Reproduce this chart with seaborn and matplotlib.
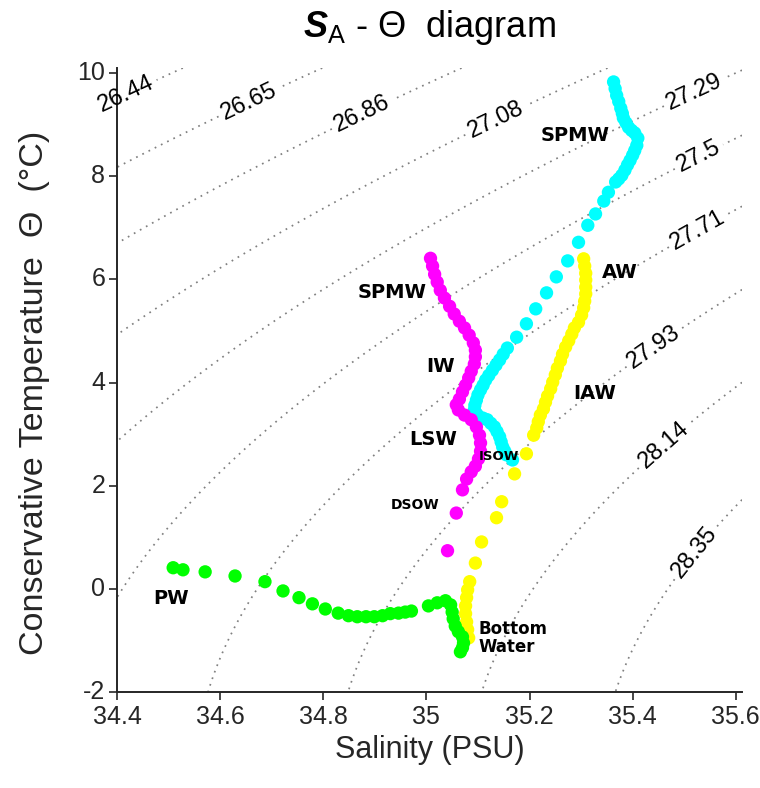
import numpy as np
import pandas as pd
import matplotlib
matplotlib.use("Agg")
import matplotlib.pyplot as plt
import seaborn as sns

# ---------------------------------------------------------------------------
# Profile data: absolute salinity (x) and conservative temperature (y)
# ---------------------------------------------------------------------------
cyan_sa = [35.363, 35.366, 35.369, 35.373, 35.377, 35.380, 35.382, 35.387,
           35.392, 35.398, 35.404, 35.410, 35.408, 35.404, 35.400, 35.395,
           35.390, 35.385, 35.379, 35.373, 35.367, 35.353, 35.344, 35.328,
           35.313, 35.295, 35.274, 35.252, 35.233, 35.212, 35.194, 35.175,
           35.157, 35.149, 35.142, 35.135, 35.128, 35.121, 35.115, 35.110,
           35.105, 35.100, 35.097, 35.094, 35.093, 35.097, 35.101, 35.110,
           35.118, 35.125, 35.132, 35.137, 35.142, 35.145, 35.148, 35.152,
           35.155, 35.167]
cyan_ct = [9.83, 9.70, 9.57, 9.45, 9.32, 9.22, 9.13, 9.04,
           8.95, 8.89, 8.84, 8.74, 8.60, 8.50, 8.41, 8.31,
           8.22, 8.12, 8.02, 7.95, 7.89, 7.69, 7.52, 7.27,
           7.05, 6.72, 6.36, 6.05, 5.74, 5.43, 5.14, 4.88,
           4.67, 4.55, 4.44, 4.34, 4.24, 4.14, 4.05, 3.95,
           3.86, 3.76, 3.66, 3.56, 3.47, 3.40, 3.35, 3.31,
           3.28, 3.21, 3.14, 3.05, 2.95, 2.85, 2.75, 2.67,
           2.60, 2.50]

magenta_sa = [35.008, 35.012, 35.016, 35.021, 35.027, 35.035, 35.045, 35.054,
              35.064, 35.074, 35.083, 35.091, 35.095, 35.095, 35.093, 35.087,
              35.082, 35.076, 35.070, 35.064, 35.058, 35.062, 35.074, 35.087,
              35.097, 35.103, 35.105, 35.105, 35.101, 35.095, 35.087, 35.078,
              35.070, 35.058, 35.041]
magenta_ct = [6.41, 6.26, 6.10, 5.95, 5.79, 5.64, 5.48, 5.33,
              5.19, 5.06, 4.92, 4.77, 4.63, 4.50, 4.36, 4.22,
              4.09, 3.95, 3.82, 3.68, 3.57, 3.47, 3.37, 3.28,
              3.14, 2.98, 2.83, 2.67, 2.52, 2.38, 2.27, 2.13,
              1.92, 1.47, 0.74]

yellow_sa = [35.305, 35.307, 35.309, 35.309, 35.309, 35.309, 35.307, 35.305,
             35.301, 35.295, 35.287, 35.282, 35.276, 35.270, 35.264, 35.260,
             35.254, 35.250, 35.245, 35.241, 35.235, 35.231, 35.227, 35.221,
             35.217, 35.214, 35.208, 35.194, 35.171, 35.146, 35.136, 35.107,
             35.095, 35.084, 35.080, 35.078, 35.076, 35.076, 35.078, 35.080,
             35.082]
yellow_ct = [6.40, 6.26, 6.12, 5.99, 5.85, 5.72, 5.58, 5.45,
             5.31, 5.17, 5.06, 4.94, 4.81, 4.69, 4.55, 4.42,
             4.28, 4.15, 4.01, 3.88, 3.74, 3.62, 3.49, 3.37,
             3.24, 3.12, 2.98, 2.62, 2.23, 1.69, 1.38, 0.91,
             0.50, 0.14, -0.02, -0.17, -0.33, -0.48, -0.64, -0.79,
             -0.95]

green_sa = [34.509, 34.528, 34.571, 34.629, 34.687, 34.722, 34.753, 34.779,
            34.804, 34.829, 34.849, 34.866, 34.883, 34.899, 34.915, 34.930,
            34.946, 34.959, 34.971, 35.004, 35.021, 35.037, 35.047, 35.050,
            35.052, 35.056, 35.062, 35.070, 35.072, 35.070, 35.066]
green_ct = [0.41, 0.37, 0.33, 0.25, 0.14, -0.04, -0.17, -0.29,
            -0.39, -0.47, -0.52, -0.54, -0.54, -0.54, -0.52, -0.48,
            -0.47, -0.45, -0.43, -0.33, -0.27, -0.23, -0.31, -0.45,
            -0.58, -0.72, -0.83, -0.93, -1.05, -1.14, -1.22]

# Potential density anomaly levels drawn as isopycnals
sigma_levels = [26.44, 26.65, 26.86, 27.08, 27.29, 27.5, 27.71, 27.93, 28.14, 28.35]
sigma_texts = ["26.44", "26.65", "26.86", "27.08", "27.29", "27.5", "27.71",
               "27.93", "28.14", "28.35"]

# Water-mass names
mass_names = ["SPMW", "AW", "IAW", "SPMW", "IW", "LSW", "ISOW", "DSOW", "PW",
              "Bottom\nWater"]

x_ticks = [34.4, 34.6, 34.8, 35.0, 35.2, 35.4, 35.6]
x_tick_text = ["34.4", "34.6", "34.8", "35", "35.2", "35.4", "35.6"]
y_ticks = [-2, 0, 2, 4, 6, 8, 10]


def sigma0(sa, ct):
    """One-atmosphere density anomaly (UNESCO 1983 polynomial)."""
    sp = sa * 35.0 / 35.16504
    t = ct
    rho_w = (999.842594 + 6.793952e-2 * t - 9.095290e-3 * t**2
             + 1.001685e-4 * t**3 - 1.120083e-6 * t**4 + 6.536332e-9 * t**5)
    a = (8.24493e-1 - 4.0899e-3 * t + 7.6438e-5 * t**2
         - 8.2467e-7 * t**3 + 5.3875e-9 * t**4)
    b = -5.72466e-3 + 1.0227e-4 * t - 1.6546e-6 * t**2
    c = 4.8314e-4
    return rho_w + a * sp + b * sp**1.5 + c * sp**2 - 1000.0


profiles = [("cyan", cyan_sa, cyan_ct), ("magenta", magenta_sa, magenta_ct),
            ("yellow", yellow_sa, yellow_ct), ("green", green_sa, green_ct)]
df = pd.concat([pd.DataFrame({"SA": s, "CT": t, "profile": name})
                for name, s, t in profiles], ignore_index=True)
palette = {"cyan": "#00ffff", "magenta": "#ff00ff",
           "yellow": "#ffff00", "green": "#00ff00"}

sns.set_theme(style="white")
plt.rcParams["font.family"] = ["Liberation Sans", "DejaVu Sans"]
plt.rcParams["axes.unicode_minus"] = False
plt.rcParams["mathtext.fontset"] = "custom"
plt.rcParams["mathtext.rm"] = "Liberation Sans"
plt.rcParams["mathtext.bfit"] = "Liberation Sans:bold:italic"

fig = plt.figure(figsize=(7.6, 7.88), dpi=100)
ax = fig.add_axes([0.1539, 0.1218, 0.8224, 0.7919])

xlim = (34.4, 35.612)
ylim = (-2.0, 10.1)

# Isopycnal background
sg, tg = np.meshgrid(np.linspace(xlim[0], xlim[1], 400),
                     np.linspace(ylim[0], ylim[1], 400))
cs = ax.contour(sg, tg, sigma0(sg, tg), levels=sigma_levels,
                colors=[(0.5, 0.5, 0.5)], linewidths=1.25,
                linestyles=[(0, (1, 3))], zorder=1)
label_at = [(34.416, 9.63), (34.654, 9.48), (34.876, 9.19), (35.134, 9.09),
            (35.518, 9.67), (35.532, 8.31), (35.532, 6.86), (35.445, 4.63),
            (35.454, 2.85), (35.526, 0.66)]
clabels = ax.clabel(cs, levels=sigma_levels, manual=label_at, inline=True,
                    inline_spacing=4, fontsize=17, colors="black",
                    fmt=dict(zip(sigma_levels, sigma_texts)))
for t in clabels:
    t.set_clip_on(False)

sns.scatterplot(data=df, x="SA", y="CT", hue="profile", palette=palette,
                s=92, linewidth=0, legend=False, ax=ax, zorder=3)

# Water-mass annotations
mass_at = [(35.289, 8.80, 14), (35.375, 6.14, 14), (35.326, 3.78, 14),
           (34.934, 5.74, 14), (35.027, 4.32, 14), (35.014, 2.89, 14),
           (35.140, 2.56, 9.5), (34.979, 1.63, 10), (34.505, -0.19, 14)]
for name, (sx, ty, fs) in zip(mass_names[:-1], mass_at):
    ax.text(sx, ty, name, ha="center", va="center", fontsize=fs,
            fontweight="bold", family="DejaVu Sans", color="black", zorder=4)
ax.text(35.101, -0.95, mass_names[-1], ha="left", va="center", fontsize=12,
        fontweight="bold", family="DejaVu Sans", color="black",
        linespacing=1.05, zorder=4)

ax.set_xlim(*xlim)
ax.set_ylim(*ylim)
ax.set_xticks(x_ticks)
ax.set_xticklabels(x_tick_text)
ax.set_yticks(y_ticks)
sns.despine(ax=ax)
dark = (0.15, 0.15, 0.15)
for side in ("left", "bottom"):
    ax.spines[side].set_color(dark)
    ax.spines[side].set_linewidth(1.4)
ax.spines["left"].set_bounds(-2, 10.1)
ax.tick_params(axis="both", direction="out", length=5.5, width=1.2,
               color=dark, labelcolor=dark, labelsize=18,
               bottom=True, left=True)
ax.tick_params(axis="x", pad=3.5)
ax.tick_params(axis="y", pad=3)
for lbl in ax.get_yticklabels():
    lbl.set_verticalalignment("center")

ax.set_xlabel("Salinity (PSU)", fontsize=22, color=dark, labelpad=5)
ax.set_ylabel("Conservative Temperature  Θ  (°C)", fontsize=24.5, color=dark)
ax.yaxis.set_label_coords(-0.107, 0.48)

ax.set_title(r"$\mathbfit{S}_{\mathrm{A}}$ - Θ  diagram", fontsize=26,
             color="black", pad=22)

fig.savefig("out.png", dpi=100)
